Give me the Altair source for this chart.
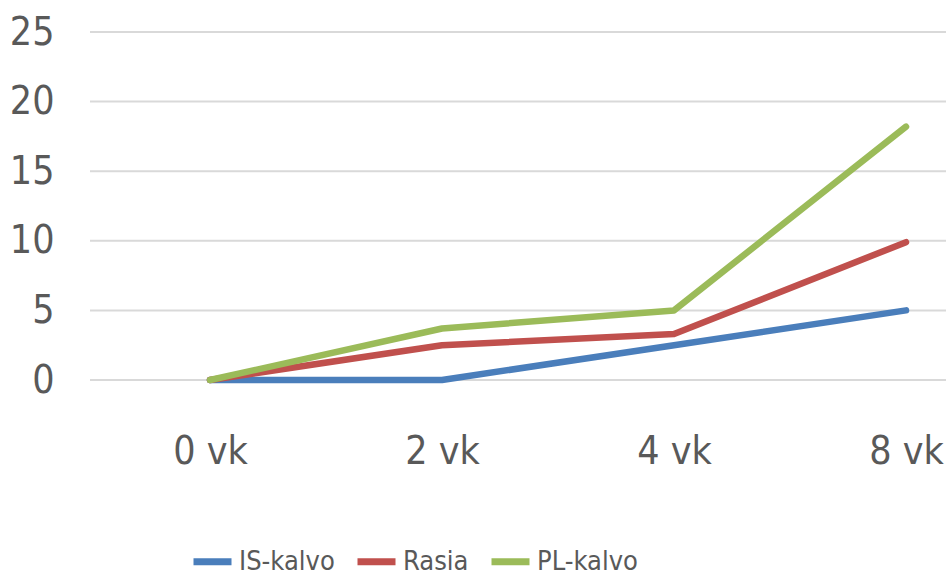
import altair as alt
import pandas as pd

weeks = ["0 vk", "2 vk", "4 vk", "8 vk"]
series = ["IS-kalvo", "Rasia", "PL-kalvo"]
is_kalvo = [0, 0, 2.5, 5.0]
rasia = [0, 2.5, 3.3, 9.9]
pl_kalvo = [0, 3.7, 5.0, 18.2]
colors = ["#4A7EBB", "#C0504D", "#9BBB59"]
y_ticks = [0, 5, 10, 15, 20, 25]

rows = []
for i, (name, vals) in enumerate(zip(series, [is_kalvo, rasia, pl_kalvo])):
    for w, v in zip(weeks, vals):
        rows.append({"week": w, "value": v, "series": name, "s": i})
df = pd.DataFrame(rows)
grid_df = pd.DataFrame({"value": y_ticks})

FONT = "DejaVu Sans Condensed, sans-serif"
TXT = "#595959"

yscale = alt.Scale(domain=[0, 25], nice=False)
yaxis = alt.Axis(title=None, values=y_ticks, domain=False, ticks=False, grid=False,
                 labelFont=FONT, labelFontSize=39, labelColor=TXT, labelPadding=36)

grid = alt.Chart(grid_df).mark_rule(color="#D9D9D9", strokeWidth=2).encode(
    y=alt.Y("value:Q", scale=yscale, axis=yaxis),
    x=alt.value(0), x2=alt.value(856),
)

lines = alt.Chart(df).mark_line(strokeWidth=6.5, strokeCap="round", strokeJoin="round").encode(
    x=alt.X("week:N", sort=weeks, scale=alt.Scale(type="point", range=[120, 816], padding=0),
            axis=alt.Axis(title=None, labelAngle=0, domain=False, ticks=False, grid=False,
                          labelFont=FONT, labelFontSize=39, labelColor=TXT,
                          labelPadding=52)),
    y=alt.Y("value:Q", scale=yscale, axis=yaxis),
    color=alt.Color("series:N", scale=alt.Scale(domain=series, range=colors),
                    legend=alt.Legend(title=None, orient="none", direction="horizontal",
                                      legendX=100, legendY=507,
                                      symbolType="stroke", symbolSize=1444,
                                      symbolStrokeWidth=7, labelFont=FONT,
                                      labelFontSize=27, labelColor=TXT,
                                      labelOffset=4, columnPadding=8,
                                      symbolOffset=0)),
    order=alt.Order("s:Q"),
)

chart = alt.layer(grid, lines).properties(
    width=856, height=348,
    background="white",
    autosize=alt.AutoSizeParams(type="none"),
    padding={"left": 90, "top": 32, "right": 0, "bottom": 200},
).configure_view(stroke=None)

chart.save("out.html", embed_options={"renderer": "svg", "actions": False})
